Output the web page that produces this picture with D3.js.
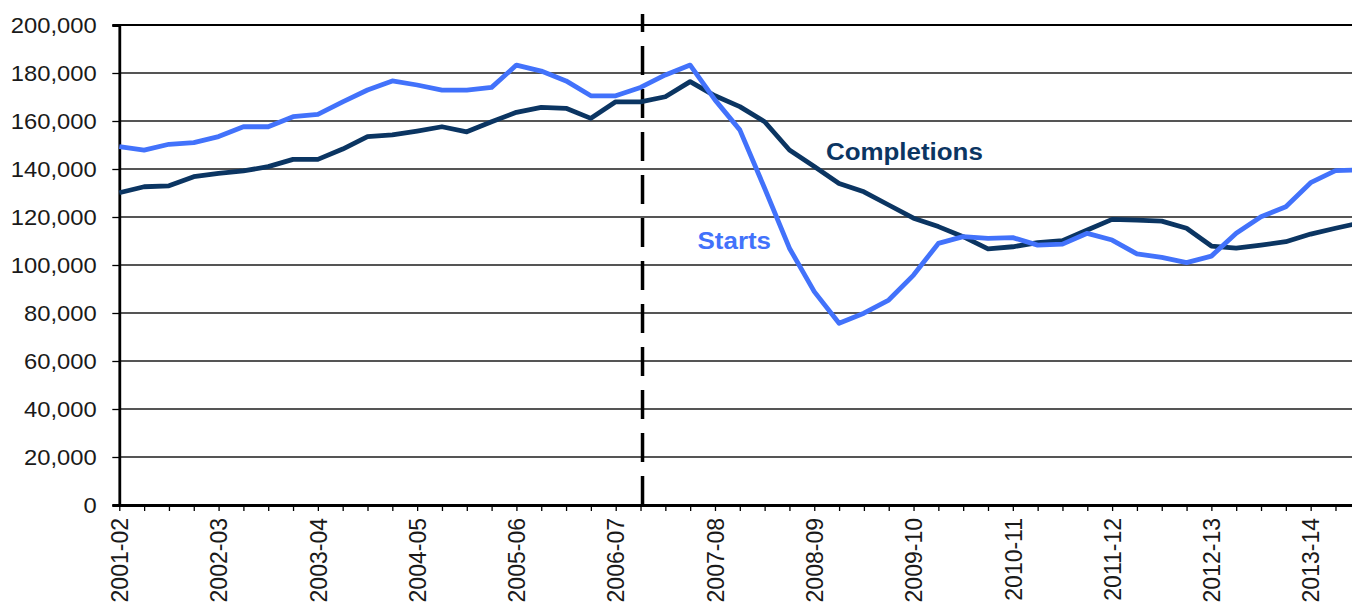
<!DOCTYPE html>
<html>
<head>
<meta charset="utf-8">
<script src="https://cdn.jsdelivr.net/npm/d3@7"></script>
<style>
  body { margin: 0; background: #fff; }
  svg { display: block; font-family: "Liberation Sans", Arial, sans-serif; }
</style>
</head>
<body>
<div class="chart"></div>
<script>
// quarterly series, 2001-02 Q1 .. 2013-14 Q3
var yearLabels = ["2001-02", "2002-03", "2003-04", "2004-05", "2005-06", "2006-07", "2007-08",
                  "2008-09", "2009-10", "2010-11", "2011-12", "2012-13", "2013-14"];

var starts = [149300, 147900, 150300, 151000, 153500, 157600, 157600, 161800, 162800, 168000,
              172900, 176700, 175000, 172900, 172900, 174000, 183300, 180800, 176700, 170500,
              170500, 174000, 179200, 183300, 168800, 156300, 132000, 107000, 88900, 75700,
              79900, 85400, 95800, 109000, 111800, 111100, 111400, 108300, 108700, 113200,
              110400, 104600, 103200, 101000, 103700, 113200, 120100, 124300, 134300, 139300,
              139700];

var completions = [130100, 132600, 133000, 136800, 138200, 139200, 141000, 144000, 144000, 148300,
                   153500, 154200, 155800, 157600, 155500, 159700, 163600, 165700, 165300, 161100,
                   168000, 168000, 170100, 176400, 170500, 166000, 159700, 147900, 141000, 134000,
                   130500, 125000, 119500, 116000, 111800, 106700, 107600, 109300, 110100, 114600,
                   119000, 118700, 118300, 115300, 107900, 107000, 108300, 109700, 112900, 115300,
                   117600];

var yTicks = [0, 20000, 40000, 60000, 80000, 100000, 120000, 140000, 160000, 180000, 200000];
var dividerIndex = 21;

var width = 1352, height = 608;
var margin = { top: 25, left: 119.3, bottom: 103 };

var svg = d3.select(".chart").append("svg")
    .attr("width", width)
    .attr("height", height);

svg.append("rect").attr("width", width).attr("height", height).attr("fill", "#fff");

var x = d3.scaleLinear()
    .domain([0, starts.length - 1])
    .range([margin.left, 1360.3]);

var y = d3.scaleLinear()
    .domain([0, 200000])
    .range([height - margin.bottom, margin.top]);

// horizontal grid
svg.append("g")
  .selectAll("line")
  .data(yTicks.filter(function(d) { return d > 0; }))
  .enter().append("line")
    .attr("x1", x(0))
    .attr("x2", x(starts.length - 1))
    .attr("y1", function(d) { return y(d); })
    .attr("y2", function(d) { return y(d); })
    .attr("stroke", function(d) { return d == 200000 ? "#000" : "#1c1c1c"; })
    .attr("stroke-width", function(d) { return d == 200000 ? 2.2 : 1.3; });

// y axis
var yAxis = svg.append("g")
    .attr("transform", "translate(" + x(0) + ",0)")
    .call(d3.axisLeft(y).tickValues(yTicks).tickSize(7).tickPadding(14)
      .tickFormat(d3.format(",")));
yAxis.select(".domain").attr("stroke", "#000").attr("stroke-width", 2.8);
yAxis.selectAll(".tick line").attr("stroke", "#000").attr("stroke-width", 1.3);
yAxis.selectAll(".tick text")
    .attr("font-size", 22)
    .attr("fill", "#1a1a1a")
    .attr("font-family", "Liberation Sans, Arial, sans-serif")
    .attr("transform", "scale(1.08,1)");

// x axis, a tick every quarter, a label every year
var xAxis = svg.append("g")
    .attr("transform", "translate(0," + y(0) + ")")
    .call(d3.axisBottom(x).tickValues(d3.range(0, starts.length)).tickSize(6).tickSizeOuter(0)
      .tickFormat(function(i) { return i % 4 == 0 ? yearLabels[i / 4] : ""; }));
xAxis.select(".domain").attr("stroke", "#000").attr("stroke-width", 2.8);
xAxis.selectAll(".tick line").attr("stroke", "#000").attr("stroke-width", 1.3);
xAxis.selectAll(".tick text")
    .attr("font-size", 23)
    .attr("fill", "#1a1a1a")
    .attr("font-family", "Liberation Sans, Arial, sans-serif")
    .attr("text-anchor", "end")
    .attr("transform", "rotate(-90)")
    .attr("x", -13)
    .attr("y", 0)
    .attr("dy", "0.36em");

// dashed divider
svg.append("line")
    .attr("x1", x(dividerIndex) + 2)
    .attr("x2", x(dividerIndex) + 2)
    .attr("y1", y(0))
    .attr("y2", y(200000) - 11)
    .attr("stroke", "#000")
    .attr("stroke-width", 3.5)
    .attr("stroke-dasharray", "29,14");

var line = d3.line()
    .x(function(d, i) { return x(i); })
    .y(function(d) { return y(d); });

svg.append("path")
    .datum(completions)
    .attr("d", line)
    .attr("fill", "none")
    .attr("stroke", "#0b3562")
    .attr("stroke-width", 4.8)
    .attr("stroke-linejoin", "round");

svg.append("path")
    .datum(starts)
    .attr("d", line)
    .attr("fill", "none")
    .attr("stroke", "#4272fb")
    .attr("stroke-width", 4.8)
    .attr("stroke-linejoin", "round");

// series labels
svg.append("text")
    .attr("x", x(28.47))
    .attr("y", y(143800))
    .attr("font-size", 24)
    .attr("font-weight", "bold")
    .attr("fill", "#0b3562")
    .attr("transform", "translate(" + (-x(28.47) * 0.08) + ",0) scale(1.08,1)")
    .text("Completions");

svg.append("text")
    .attr("x", x(23.3))
    .attr("y", y(106700))
    .attr("font-size", 24)
    .attr("font-weight", "bold")
    .attr("fill", "#4272fb")
    .attr("transform", "translate(" + (-x(23.3) * 0.08) + ",0) scale(1.08,1)")
    .text("Starts");
</script>
</body>
</html>
